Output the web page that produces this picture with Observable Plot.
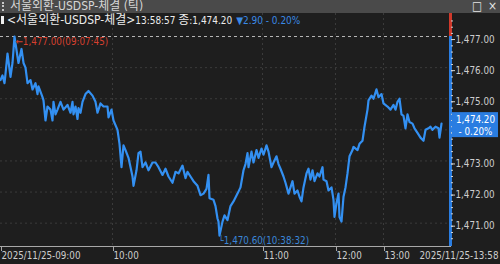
<!DOCTYPE html>
<html><head><meta charset="utf-8">
<script src="https://cdn.jsdelivr.net/npm/d3@7"></script>
<script src="https://cdn.jsdelivr.net/npm/@observablehq/plot@0.6"></script>
<style>
html,body{margin:0;padding:0;background:#1e1e1e;width:500px;height:264px;overflow:hidden;
  font-family:"Liberation Sans Narrow","DejaVu Sans Condensed","Noto Sans CJK KR",sans-serif;}
#titlebar{height:13px;background:#4a4a4a;color:#d6d6d6;font-size:12px;line-height:13px;position:relative;white-space:nowrap;}
#titlebar .grip{position:absolute;left:2px;top:2px;width:0;height:9px;border-left:2px dotted #c8c8c8;}
#titlebar .t{position:absolute;left:10px;top:0;}
#titlebar .ic{position:absolute;top:0;color:#e6e6e6;font-size:12px;}
#wrap{position:relative;height:251px;}
#info{position:absolute;top:1px;left:0;font-size:12px;line-height:13px;color:#ececec;white-space:nowrap;z-index:2;}
#info .bar{display:inline-block;width:3px;height:8px;background:#eee;margin:0 3px 0 1px;vertical-align:0px;}
#info .chg{color:#3a8ae6;margin-left:4px;}
svg{display:block;}
#chart svg text{font-family:"Liberation Sans Narrow","DejaVu Sans Condensed","Noto Sans CJK KR",sans-serif;}
</style></head>
<body>
<div id="titlebar"><span class="grip"></span><span class="t" id="ttl"></span><span class="ic" style="left:472px">□</span><span class="ic" style="left:488px">×</span></div>
<div id="wrap"><div id="info"></div><div id="chart"></div></div>
<script>
const seriesName = "서울외환-USDSP-체결";
const lastTime = "13:58:57";
const lastPrice = 1474.20;
const change = 2.90;
const changePct = -0.20;

const seq = [0,2,4,5,7,10,12,14,17,18,21,23,25,27,30,32,35,37,38,42,43,45,47,50,52,53,55,57,60,63,67,70,72,73,75,77,78,80,82,85,88,92,95,97,100,103,107,108,111,113,117,119,121,123,125,128,132,133,136,138,140,142,145,148,152,155,158,162,165,168,172,175,178,182,185,187,190,193,197,200,203,206,208,209,213,215,217,218,219,222,224,227,230,233,237,240,243,245,247,248,251,253,256,258,261,263,266,268,271,273,276,278,280,283,285,288,292,294,297,299,301,303,306,308,310,312,314,317,319,322,323,326,328,331,333,334,336,338,339,341,343,345,347,349,352,353,357,359,362,364,367,368,371,373,376,378,381,383,387,390,393,395,397,399,401,403,405,407,409,412,414,417,420,423,425,428,430,432,435,438,439,441];
const price = [1475.60,1475.75,1475.50,1475.80,1476.45,1475.70,1476.15,1477.00,1476.35,1476.15,1476.60,1476.15,1476.00,1475.50,1475.60,1475.30,1475.50,1475.15,1475.40,1475.05,1474.95,1474.30,1474.75,1474.65,1474.30,1474.90,1474.50,1474.65,1474.90,1474.65,1474.80,1474.55,1474.90,1474.50,1474.75,1474.35,1474.70,1474.55,1474.90,1475.15,1475.25,1475.10,1474.90,1474.55,1474.85,1474.75,1474.75,1474.40,1474.65,1474.30,1474.00,1473.55,1472.80,1473.50,1473.35,1473.10,1472.50,1472.20,1472.70,1473.25,1473.30,1472.80,1472.95,1472.70,1472.95,1472.95,1472.80,1472.55,1472.75,1472.50,1472.30,1472.65,1472.60,1472.85,1472.45,1472.65,1472.50,1472.35,1472.20,1471.90,1471.95,1472.10,1472.55,1471.80,1471.75,1471.55,1471.15,1471.05,1470.60,1471.05,1471.25,1471.10,1471.55,1471.70,1471.95,1472.15,1472.70,1472.90,1473.25,1472.80,1473.30,1472.95,1473.35,1473.10,1473.40,1473.20,1473.50,1473.30,1472.80,1472.95,1473.15,1472.90,1472.75,1472.50,1472.30,1471.95,1472.35,1471.95,1472.05,1471.85,1471.70,1472.15,1472.60,1472.75,1472.40,1472.70,1472.35,1472.60,1472.50,1472.80,1472.40,1472.35,1472.05,1472.15,1471.75,1471.20,1471.65,1471.95,1471.20,1471.05,1471.85,1472.15,1472.60,1473.15,1473.35,1473.45,1473.35,1473.55,1473.65,1474.10,1474.65,1474.95,1475.10,1475.00,1475.30,1475.05,1475.15,1474.85,1474.75,1474.65,1474.80,1474.65,1474.90,1475.00,1474.50,1474.45,1474.05,1474.50,1474.25,1474.20,1474.05,1473.90,1473.75,1473.65,1474.00,1474.05,1474.10,1474.00,1474.10,1474.05,1473.75,1474.20];

const timeSeq = [0,112,262,335,383];
const timeLabels = ["2025/11/25-09:00","10:00","11:00","12:00","13:00"];
const endLabel = "2025/11/25-13:58";
const yTicks = [1471,1472,1473,1474,1475,1476,1477];
const minorTicks = d3.range(14705, 14776, 2).map(v => v / 10);
const highPoint = {price: 1477.00, time: "09:07:45"};
const lowPoint = {price: 1470.60, time: "10:38:32"};

const xMax = 450;
const yLo = 1470.25, yHi = 1477.74;

const fmt = d3.format(",.2f");
const data = seq.map((s, i) => ({seq: s, price: price[i]}));
const hiIdx = price.indexOf(d3.max(price));
const loIdx = price.indexOf(d3.min(price));
const hi = {seq: seq[hiIdx], price: highPoint.price, time: highPoint.time};
const lo = {seq: seq[loIdx], price: lowPoint.price, time: lowPoint.time};
const last = data[data.length - 1];
const labelMap = new Map(timeSeq.map((s, i) => [s, timeLabels[i]]));
const pctText = (changePct < 0 ? "- " : "+ ") + d3.format(".2f")(Math.abs(changePct)) + "%";
// the current-price box hides the axis label it covers
const yLabel = d => Math.abs(d - last.price) < 0.5 ? "" : fmt(d);

const font = '"Liberation Sans Narrow","DejaVu Sans Condensed","Noto Sans CJK KR",sans-serif';
// pick a font size so the time label has the reference's width (~79px)
const ctx = document.createElement("canvas").getContext("2d");
ctx.font = "12px " + font;
const w12 = ctx.measureText(timeLabels[0]).width || 79;
const fs = Math.max(9, Math.min(12.5, 12 * 79 / w12));
const nfs = Math.min(12, fs + 0.2);

document.getElementById("ttl").textContent = seriesName + " (틱)";
const n = s => '<span style="font-size:' + nfs + 'px">' + s + '</span>';
document.getElementById("info").innerHTML =
  '<span class="bar"></span>&lt;' + seriesName + '&gt;' + n(lastTime + ' ') + '종' + n(':' + fmt(lastPrice)) +
  '<span class="chg">' + n('▼' + d3.format(".2f")(change) + ' ' + pctText) + '</span>';

const chart = Plot.plot({
  width: 500, height: 251,
  marginLeft: 0, marginRight: 50, marginTop: 0, marginBottom: 18,
  style: {background: "#1e1e1e", color: "#cdcdcd", fontFamily: font, fontSize: fs + "px", overflow: "visible"},
  x: {domain: [0, xMax], axis: null},
  y: {domain: [yLo, yHi], axis: null},
  marks: [
    Plot.ruleY(yTicks.slice(0, -1), {stroke: "#3b3b3b", strokeDasharray: "2,3"}),
    Plot.ruleX(timeSeq.slice(1), {stroke: "#3b3b3b", strokeDasharray: "2,3"}),
    Plot.ruleY([highPoint.price], {stroke: "#b8b8b8", strokeDasharray: "3,3"}),
    Plot.frame({anchor: "bottom", stroke: "#a8a8a8"}),
    Plot.line(data, {x: "seq", y: "price", stroke: "#3390f2", strokeWidth: 2.2}),
    Plot.ruleX([xMax], {y1: highPoint.price, y2: yLo, stroke: "#2a7de1", strokeWidth: 3}),
    Plot.ruleX([xMax], {y1: highPoint.price, y2: yHi, stroke: "#d0392b", strokeWidth: 3}),
    Plot.axisY({anchor: "right", label: null, ticks: yTicks, tickSize: 4, tickPadding: 1, tickFormat: yLabel, dy: 3, stroke: "#d0d0d0", fill: "#cdcdcd"}),
    Plot.axisY({anchor: "right", label: null, ticks: minorTicks, tickSize: 2, tickFormat: () => "", stroke: "#d0d0d0"}),
    Plot.axisX({label: null, ticks: timeSeq, tickSize: 5, tickPadding: 1, tickFormat: d => labelMap.get(d), textAnchor: "start", dx: 1, stroke: "#a8a8a8", fill: "#cdcdcd"}),
    Plot.text([last], {x: () => xMax, frameAnchor: "bottom", text: () => endLabel, textAnchor: "end", lineAnchor: "top", dx: 48, dy: 6, fill: "#cdcdcd"}),
    Plot.text([hi], {x: "seq", y: "price", text: d => "←" + fmt(d.price) + "(" + d.time + ")", textAnchor: "start", dx: 1, dy: 5, fill: "#d6402f"}),
    Plot.text([lo], {x: "seq", y: "price", text: d => "└" + fmt(d.price) + "(" + d.time + ")", textAnchor: "start", dx: -1, dy: 5, fill: "#3a86d8"}),
    Plot.rect([last], {x1: () => xMax, x2: () => xMax, y1: "price", y2: "price", insetLeft: 2, insetRight: -48, insetTop: -11, insetBottom: -14, fill: "#2a7de1"}),
    Plot.text([last], {x: () => xMax, y: "price", text: d => fmt(d.price), dx: 25, dy: -4, lineAnchor: "middle", textAnchor: "middle", fill: "#ffffff"}),
    Plot.text([last], {x: () => xMax, y: "price", text: () => pctText, dx: 25, dy: 8, lineAnchor: "middle", textAnchor: "middle", fill: "#ffffff"})
  ]
});
document.getElementById("chart").appendChild(chart);
</script>
</body></html>
